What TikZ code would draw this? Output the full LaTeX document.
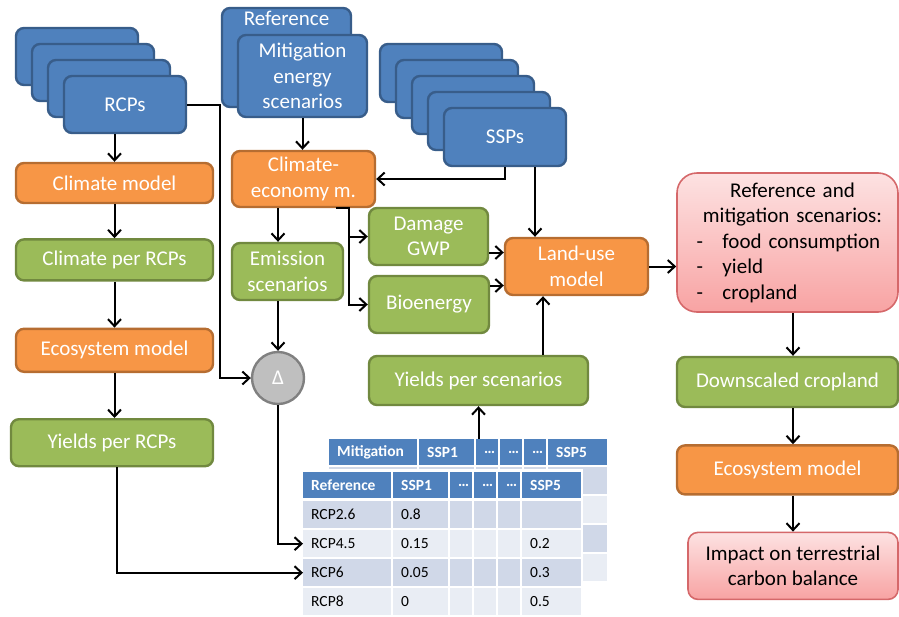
\documentclass[tikz,border=0pt]{standalone}
\usepackage{fontspec}
\setmainfont{Carlito}
\usetikzlibrary{positioning,arrows.meta,calc}
\definecolor{inblue}{HTML}{4F81BD}
\definecolor{inblueline}{HTML}{385D8A}
\definecolor{modor}{HTML}{F79646}
\definecolor{modorline}{HTML}{B66D31}
\definecolor{resgr}{HTML}{9BBB59}
\definecolor{resgrline}{HTML}{71893F}
\definecolor{outtop}{HTML}{FDE2E2}
\definecolor{outbot}{HTML}{F8A3A3}
\definecolor{outline}{HTML}{D5686A}
\definecolor{rowdk}{HTML}{D0D8E8}
\definecolor{rowlt}{HTML}{E9EDF4}
\newcommand\boxfont{\fontsize{21}{25.5}\selectfont}
\newcommand\tabfont{\fontsize{15.5}{18}\selectfont}
\tikzset{
  inbox/.style   = {rectangle, rounded corners=8pt, draw=inblueline, fill=inblue, line width=2.4pt,
                    text=white, font=\boxfont, align=center, inner sep=0pt},
  stackbox/.style = {inbox, minimum width=122pt, minimum height=57pt},
  model/.style   = {rectangle, rounded corners=8pt, draw=modorline, fill=modor, line width=2.4pt,
                    text=white, font=\boxfont, align=center, inner sep=0pt},
  result/.style  = {rectangle, rounded corners=8pt, draw=resgrline, fill=resgr, line width=2.4pt,
                    text=white, font=\boxfont, align=center, inner sep=0pt},
  outcome/.style = {rectangle, rounded corners=10pt, draw=outline, top color=outtop, bottom color=outbot,
                    line width=1.6pt, text=black, font=\boxfont, align=center, inner sep=0pt},
  diffnode/.style = {circle, draw=black!50, fill=black!25, line width=2.4pt, text=white,
                    font=\fontsize{21}{24}\selectfont, minimum size=52pt, inner sep=0pt},
  flow/.style    = {-{Straight Barb[length=7pt,width=13pt]}, line width=2pt, draw=black},
  thd/.style     = {fill=inblue, text=white, font=\tabfont\bfseries, anchor=north west,
                    minimum height=26pt, inner xsep=8pt, inner ysep=0pt, align=left},
  tcell/.style   = {anchor=north west, minimum height=27pt, inner xsep=8pt, inner ysep=0pt,
                    align=left, font=\tabfont},
}

\begin{document}
\begin{tikzpicture}[x=1pt, y=-1pt]
  \useasboundingbox (0,0) rectangle (899,616);

  % RCP stack and left chain
  \foreach \i in {0,1,2}
    \node[stackbox] (rcp\i) at (77+16*\i,56.5+16*\i) {};
  \node[stackbox] (rcp) at (125,104.5) {RCPs};
  \node[model, minimum width=197pt, minimum height=40pt] (clim) at (114.5,183) {Climate model};
  \node[result, minimum width=197pt, minimum height=41pt, below=34pt of clim] (climr) {Climate per RCPs};
  \node[model, minimum width=197pt, minimum height=43pt, below=46pt of climr] (eco) {Ecosystem model};
  \node[result, minimum width=202pt, minimum height=47pt, below=45pt of eco, xshift=-2.5pt] (yrcp) {Yields per RCPs};

  % energy scenarios and climate-economy
  \node[inbox, minimum width=129pt, minimum height=99pt,
        label={[text=white, font=\boxfont, anchor=center, yshift=-12pt]north:Reference}] (ref) at (286.5,57.5) {};
  \node[inbox, minimum width=129pt, minimum height=82pt] (mit) at (302.5,76) {Mitigation\\energy\\scenarios};
  \node[model, minimum width=143pt, minimum height=56pt] (ce) at (303.5,179) {Climate-\\economy m.};
  \node[result, minimum width=111pt, minimum height=57pt] (em) at (287.5,271.5) {Emission\\scenarios};
  \node[diffnode] (delta) at (278,378) {Δ};

  % SSP stack
  \foreach \i in {0,...,3}
    \node[stackbox, minimum height=58pt] (ssp\i) at (441+16*\i,73+16*\i) {};
  \node[stackbox, minimum height=58pt] (ssp) at (505,137) {SSPs};

  \node[result, minimum width=119pt, minimum height=57pt] (dmg) at (428.5,236.5) {Damage\\GWP};
  \node[result, minimum width=120pt, minimum height=57pt] (bio) at (429,304.5) {Bioenergy};
  \node[model, minimum width=143pt, minimum height=57pt] (lu) at (576.5,266.5) {Land-use\\model};
  \node[result, minimum width=219pt, minimum height=49pt] (ysc) at (478.5,380.5) {Yields per scenarios};

  % right column
  \node[outcome, rounded corners=20pt, minimum width=221pt, minimum height=139pt, text width=200pt, align=left] (pink) at (787.5,242.5)
    {\centering\hspace*{10pt}Reference and\\\hspace*{10pt}mitigation scenarios:\par
     \raggedright\hspace*{9pt}\makebox[26pt][l]{-}food consumption\\
     \hspace*{9pt}\makebox[26pt][l]{-}yield\\
     \hspace*{9pt}\makebox[26pt][l]{-}cropland};
  \node[result, minimum width=221pt, minimum height=50pt, below=43pt of pink] (dsc) {Downscaled cropland};
  \node[model, minimum width=221pt, minimum height=49pt, below=36pt of dsc] (ecor) {Ecosystem model};
  \node[outcome, minimum width=210pt, minimum height=67pt, below=36pt of ecor, xshift=5.5pt] (imp) {Impact on terrestrial\\carbon balance};

  % mitigation table (behind)
  \foreach \cx/\tw/\ct [count=\i] in {329/72/Mitigation,419/39/SSP1,476/6/…,500/6/…,524/6/…,548/43/SSP5}
    \node[thd, text width=\tw pt] (mh\i) at (\cx,439) {\ct};
  \foreach \ry/\rc in {467/rowdk,496/rowlt,525/rowdk,554/rowlt}
    \foreach \cx/\tw in {329/72,419/39,476/6,500/6,524/6,548/43}
      \node[tcell, fill=\rc, text width=\tw pt] (mc\ry-\cx) at (\cx,\ry) {};
  \fill[white] (301,469) rectangle (583,616);

  % reference table (front)
  \foreach \cx/\tw/\ct [count=\i] in {303/72/Reference,393/39/SSP1,450/6/…,474/6/…,498/6/…,522/43/SSP5}
    \node[thd, text width=\tw pt] (rh\i) at (\cx,472) {\ct};
  \foreach \ry/\rc/\ra/\va/\vb [count=\j] in {501/rowdk/RCP2.6/0.8/{},530/rowlt/RCP4.5/0.15/0.2,559/rowdk/RCP6/0.05/0.3,588/rowlt/RCP8/0/0.5} {
    \node[tcell, fill=\rc, text width=72pt] (row\j) at (303,\ry) {\ra};
    \node[tcell, fill=\rc, text width=39pt] (sa\j) at (393,\ry) {\va};
    \foreach \cx in {450,474,498}
      \node[tcell, fill=\rc, text width=6pt] (dc\cx-\j) at (\cx,\ry) {};
    \node[tcell, fill=\rc, text width=43pt] (sb\j) at (522,\ry) {\vb};
  }

  % arrows
  \draw[flow] (clim.north |- rcp.south) -- (clim.north);
  \draw[flow] (clim) -- (climr);
  \draw[flow] (climr) -- (eco);
  \draw[flow] (eco.south) -- (eco.south |- yrcp.north);
  \draw[flow] (rcp.east) -- ++(33,0) |- (delta.west);
  \draw[flow] ([xshift=5pt]yrcp.south) |- (row3.west);
  \draw[flow] (delta.south) |- (row2.west);
  \draw[flow] (mit.south) -- (mit.south |- ce.north);
  \draw[flow] (ssp.south) |- (ce.east);
  \draw[flow] ([xshift=30pt]ssp.south) -- ([xshift=30pt]ssp.south |- lu.north);
  \draw[flow] (ce.south -| delta.north) -- (em.north -| delta.north);
  \draw[flow] (em.south -| delta.north) -- (delta.north);
  \draw[flow] ([xshift=32pt]ce.south) -| ([xshift=-19pt]bio.west) -- (bio.west);
  \draw[flow] ([xshift=-19pt]dmg.west) -- (dmg.west);
  \draw[flow] ([yshift=-16pt]dmg.east) -- ([yshift=-16pt]dmg.east -| lu.west);
  \draw[flow] ([yshift=19pt]bio.east) -- ([yshift=19pt]bio.east -| lu.west);
  \draw[flow] ([xshift=64.5pt]ysc.north) -- ([xshift=64.5pt]ysc.north |- lu.south);
  \draw[flow] (ysc.south |- mh1.north) -- (ysc.south);
  \draw[flow] (lu.east) -- (lu.east -| pink.west);
  \draw[flow] (pink.south -| imp.north) -- (dsc.north -| imp.north);
  \draw[flow] (dsc.south -| imp.north) -- (ecor.north -| imp.north);
  \draw[flow] (ecor.south -| imp.north) -- (imp.north);
\end{tikzpicture}
\end{document}
